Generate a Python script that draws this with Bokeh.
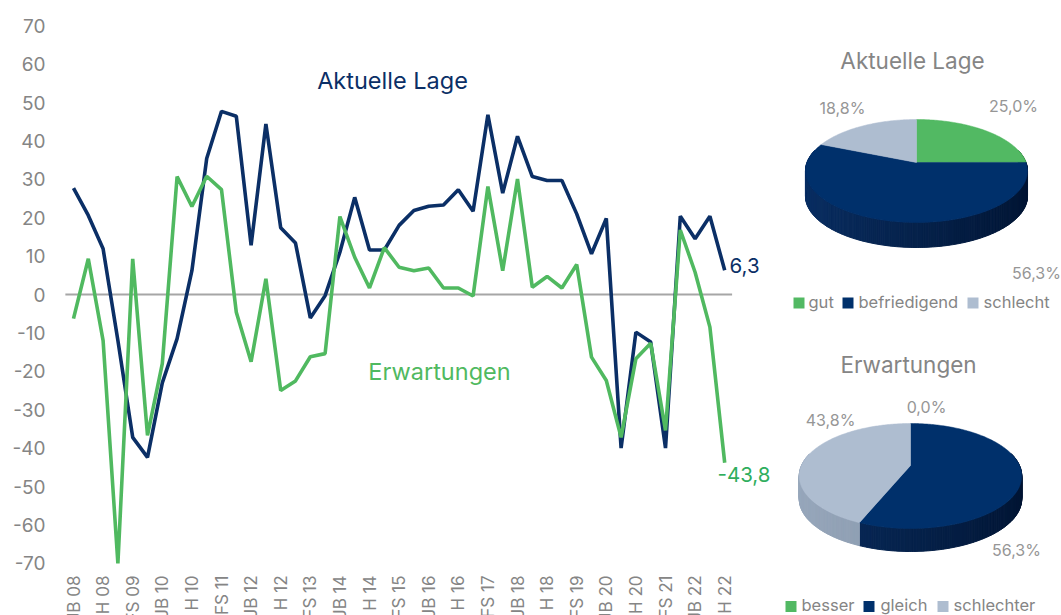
import math
from bokeh.plotting import figure
from bokeh.models import Range1d, Label, BoxAnnotation, FixedTicker
from bokeh.embed import file_html
from bokeh.resources import INLINE

# ---- data -------------------------------------------------------------
tick_labels = ["JB 08","H 08","FS 09","JB 10","H 10","FS 11","JB 12","H 12","FS 13","JB 14","H 14",
               "FS 15","JB 16","H 16","FS 17","JB 18","H 18","FS 19","JB 20","H 20","FS 21","JB 22","H 22"]
aktuelle_lage = [27.7,20.6,11.9,-12,-37.2,-42.4,-23,-11.5,6.2,35.4,47.7,46.4,12.8,44.4,17.4,13.4,-6.1,-0.3,
                 11,25.3,11.6,11.6,18,21.9,23,23.3,27.3,21.7,46.8,26.4,41.2,30.7,29.7,29.7,21,10.6,19.8,
                 -40,-9.8,-12.4,-40,20.4,14.5,20.4,6.3]
erwartungen = [-6.3,9.3,-12,-70,9.3,-36.7,-18,30.7,22.9,30.8,27.3,-4.6,-17.5,4.1,-25,-22.5,-16.2,-15.4,
               20.3,9.7,1.7,12.2,7.1,6.2,6.9,1.7,1.7,-0.4,28.1,6.2,30.1,1.9,4.7,1.7,7.8,-16.3,-22.4,
               -37.2,-16.7,-12.7,-35.4,16.8,5.8,-8.5,-43.8]
y_ticks = [70,60,50,40,30,20,10,0,-10,-20,-30,-40,-50,-60,-70]

pie1_names = ["gut","befriedigend","schlecht"]
pie1_values = [25.0,56.3,18.8]
pie2_names = ["besser","gleich","schlechter"]
pie2_values = [0.0,56.3,43.8]

# ---- style ------------------------------------------------------------
NAVY, GREEN, GREY = "#0B2F66", "#50B960", "#858585"
TOP = ["#52B963", "#00306B", "#AEBDD0"]
SIDE_L = ["#3F9A50", "#0A2F63", "#98A8BC"]
SIDE_R = ["#2E7A3E", "#021533", "#7F8EA2"]
FONT = "Inter"

W, H = 1061, 615
FL, FB = 52, 615          # frame left / bottom in page pixels
X0, DX = 73.0, 14.8       # first point and step
Y0, DY = 294.0, 3.84      # zero line and px per unit

p = figure(width=W, height=H, frame_width=W-FL, frame_height=FB, output_backend="svg", toolbar_location=None,
           x_range=Range1d((FL-X0)/DX, (W-X0)/DX), y_range=Range1d((Y0-FB)/DY, Y0/DY),
           min_border=0, min_border_left=FL, min_border_bottom=0, min_border_top=0, min_border_right=0,
           outline_line_color=None, background_fill_color="white", margin=0)
p.extra_x_ranges["px"] = Range1d(FL, W)
p.extra_y_ranges["px"] = Range1d(FB, 0)
p.grid.visible = False

ax = p.yaxis[0]
ax.ticker = FixedTicker(ticks=y_ticks)
ax.major_label_overrides = {v: str(v) for v in y_ticks}
ax.axis_line_color = None
ax.major_tick_line_color = None
ax.minor_tick_line_color = None
ax.major_label_text_font = FONT
ax.major_label_text_font_size = "19px"
ax.major_label_text_color = GREY
ax.major_label_standoff = 1

ax = p.xaxis[0]
idx = [2*i for i in range(len(tick_labels))]
ax.ticker = FixedTicker(ticks=idx)
ax.major_label_overrides = dict(zip(idx, tick_labels))
ax.major_label_orientation = math.pi/2
ax.axis_line_color = None
ax.major_tick_line_color = None
ax.minor_tick_line_color = None
ax.major_label_text_font = FONT
ax.major_label_text_font_size = "17px"
ax.major_label_text_color = GREY
ax.major_label_standoff = -46

xs = list(range(len(aktuelle_lage)))
p.line([-0.55, 44.5], [0, 0], line_color="#A6A6A6", line_width=2)
p.line(xs, aktuelle_lage, line_color=NAVY, line_width=3.6)
p.line(xs, erwartungen, line_color=GREEN, line_width=3.6)


def label(x, y, text, size, color, align="center"):
    p.add_layout(Label(x=x, y=y, text=text, x_range_name="px", y_range_name="px",
                       text_font=FONT, text_font_size=f"{size}px", text_color=color,
                       text_align=align, text_baseline="middle"))


def swatch(x, y, color):
    p.add_layout(BoxAnnotation(left=x, right=x+11, top=y-5.5, bottom=y+5.5, fill_color=color, fill_alpha=1,
                               line_color=None, x_range_name="px", y_range_name="px"))


def pie(values, cx, cy, R, A, k, depth):
    def pt(theta):
        w = 1 + k*math.cos(theta)
        return cx + R*math.sin(theta)/w, cy - A*math.cos(theta)/w
    total = sum(values)
    a0 = 0.0
    spans = []
    for v in values:
        a1 = a0 + 2*math.pi*v/total
        spans.append((a0, a1))
        a0 = a1
    for i, (a0, a1) in enumerate(spans):
        n = max(2, int(60*(a1-a0)))
        for j in range(n):
            t0 = a0 + (a1-a0)*j/n
            t1 = a0 + (a1-a0)*(j+1)/n
            if math.cos((t0+t1)/2) > 0.25:
                continue
            x0, y0 = pt(t0)
            x1, y1 = pt(t1)
            s = (math.sin((t0+t1)/2)+1)/2
            c0, c1 = SIDE_L[i], SIDE_R[i]
            rgb = [int(int(c0[q:q+2],16)*(1-s)+int(c1[q:q+2],16)*s) for q in (1,3,5)]
            col = "#%02x%02x%02x" % tuple(rgb)
            p.patch([x0,x1,x1,x0],[y0,y1,y1+depth,y0+depth], fill_color=col, line_color=col, line_width=1,
                    x_range_name="px", y_range_name="px")
    for i, (a0, a1) in enumerate(spans):
        if values[i] <= 0:
            continue
        n = max(2, int(60*(a1-a0)))
        pts = [pt(a0 + (a1-a0)*j/n) for j in range(n+1)]
        p.patch([cx] + [q[0] for q in pts], [cy] + [q[1] for q in pts], fill_color=TOP[i], line_color=TOP[i],
                line_width=0.5, x_range_name="px", y_range_name="px")


pie(pie1_values, 916, 162, 109.5, 50.1, 0.165, 25)
pie(pie2_values, 910, 465, 109, 50.4, 0.2, 23)

for i, (sx, tx) in enumerate(zip((793, 842, 967), (808, 858, 983))):
    swatch(sx, 302.5, TOP[i])
    label(tx, 301, pie1_names[i], 16.5, GREY, "left")
for i, (sx, tx) in enumerate(zip((785, 863, 937), (801, 880, 953))):
    swatch(sx, 606, TOP[i])
    label(tx, 604, pie2_names[i], 16.5, GREY, "left")

label(392, 80, "Aktuelle Lage", 23.5, NAVY)
label(439, 371, "Erwartungen", 23.5, GREEN)
label(729, 265, "6,3", 20.5, NAVY, "left")
label(717, 474, "-43,8", 20.5, "#2FAE5E", "left")

label(912, 60, "Aktuelle Lage", 22.5, GREY)
label(842, 107, f"{pie1_values[2]:.1f}%".replace(".", ","), 16, "#969696")
label(1013, 105, f"{pie1_values[0]:.1f}%".replace(".", ","), 16, "#969696")
label(1036, 272, f"{pie1_values[1]:.1f}%".replace(".", ","), 16, "#969696")

label(908, 364, "Erwartungen", 22.5, GREY)
label(926, 406, f"{pie2_values[0]:.1f}%".replace(".", ","), 16, "#969696")
label(830, 419, f"{pie2_values[2]:.1f}%".replace(".", ","), 16, "#969696")
label(1016, 549, f"{pie2_values[1]:.1f}%".replace(".", ","), 16, "#969696")

open("out.html", "w").write(file_html(p, INLINE))
